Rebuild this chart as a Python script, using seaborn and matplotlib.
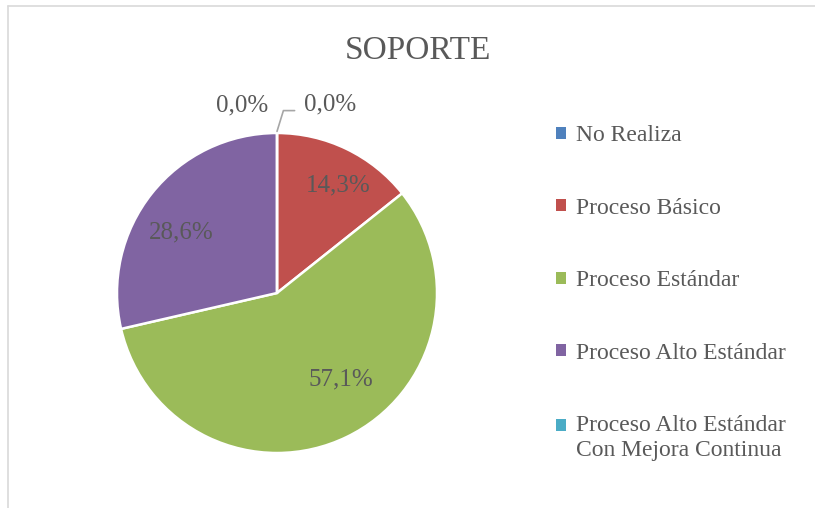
import matplotlib
matplotlib.use('Agg')
import matplotlib.pyplot as plt
import seaborn as sns
from matplotlib.lines import Line2D
from matplotlib.patches import Patch

# datos
categorias = ['No Realiza', 'Proceso Básico', 'Proceso Estándar',
              'Proceso Alto Estándar', 'Proceso Alto Estándar\nCon Mejora Continua']
valores = [0.0, 14.3, 57.1, 28.6, 0.0]
colores = ['#4F81BD', '#C0504D', '#9BBB59', '#8064A2', '#4BACC6']
titulo = 'SOPORTE'

sns.set_theme(style='white')
plt.rcParams['font.family'] = ['Liberation Serif', 'DejaVu Serif']
gris = '#595959'

fig = plt.figure(figsize=(8.15, 5.08), dpi=100)
ax = fig.add_axes([117/815, (508-293-160)/508, 320/815, 320/508])

def fmt(p):
    return '{:.1f}%'.format(p).replace('.', ',')

wedges, texts, autotexts = ax.pie(valores, colors=colores, startangle=90, counterclock=False,
                                  autopct=fmt, pctdistance=0.72,
                                  wedgeprops={'edgecolor': 'white', 'linewidth': 1.8},
                                  textprops={'fontsize': 18, 'color': gris})
ax.set_xlim(-1, 1)
ax.set_ylim(-1, 1)
ax.set_aspect('equal')

# posiciones de etiquetas como en la hoja de cálculo
pos = [(-0.22, 1.17), (0.38, 0.675), (0.40, -0.54), (-0.60, 0.38), (0.33, 1.18)]
for t, p in zip(autotexts, pos):
    t.set_position(p)
    t.set_ha('center')
    t.set_va('center')
ax.plot([0.0, 0.04, 0.11], [1.01, 1.14, 1.14], color='#a6a6a6', lw=1.2, clip_on=False)

fig.text(418/815, 1 - 51/508, titulo, ha='center', va='center', fontsize=24, color=gris)

handles = [Patch(facecolor=c, edgecolor='none') for c in colores]
leg = fig.legend(handles, categorias, loc='upper left', bbox_to_anchor=(535/815, 1 - 104/508),
                 frameon=False, fontsize=17, handlelength=0.42, handleheight=0.42,
                 handletextpad=0.4, labelspacing=2.18, labelcolor=gris)
for t in leg.get_texts():
    t.set_linespacing(1.25)

# el cuadrito de la última entrada va en la primera línea
ult = leg.legend_handles[4]
ult.set_y(ult.get_y() + 9.4)

# marco del gráfico
fig.add_artist(Line2D([8/815, 8/815], [0, 1 - 6/508], color='#d9d9d9', lw=1.2))
fig.add_artist(Line2D([8/815, 1], [1 - 6/508, 1 - 6/508], color='#d9d9d9', lw=1.2))

fig.savefig('out.png', dpi=100)
